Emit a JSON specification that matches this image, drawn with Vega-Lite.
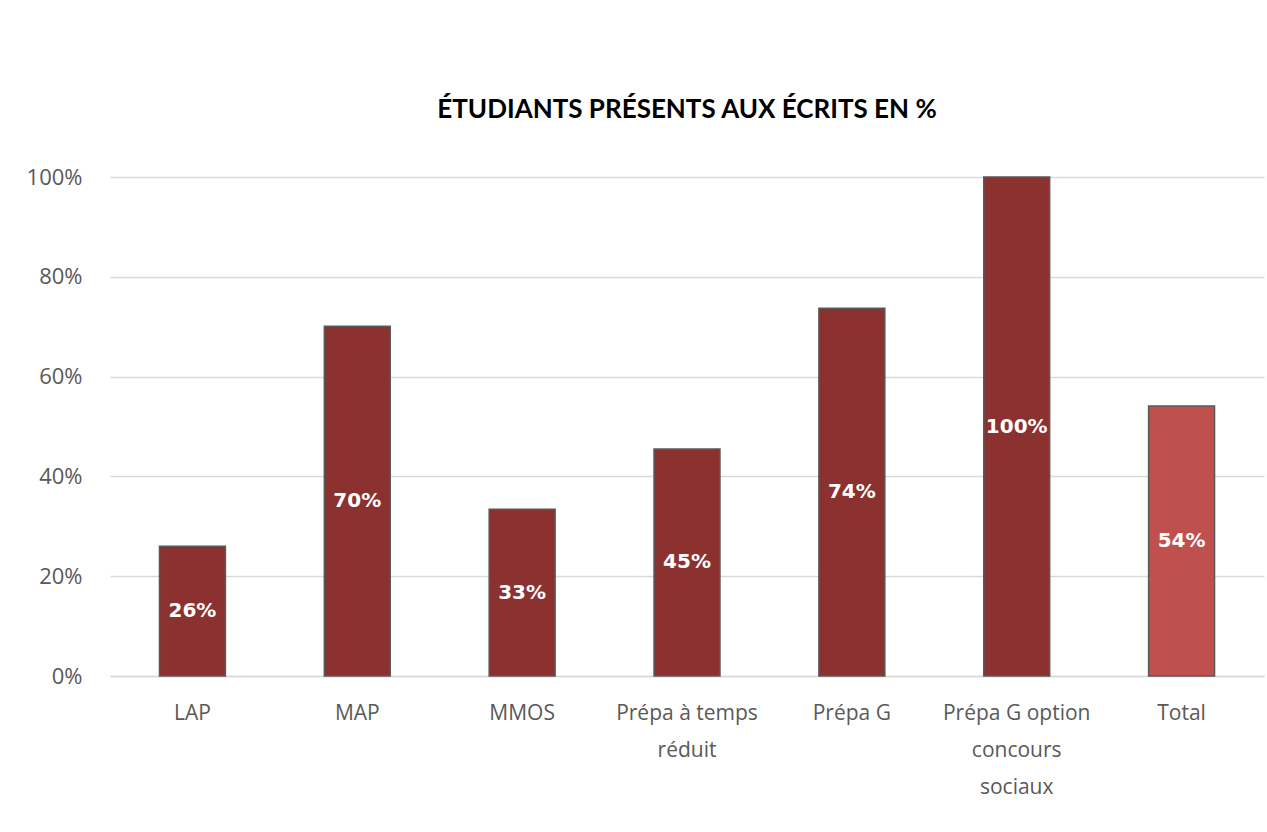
{
  "$schema": "https://vega.github.io/schema/vega-lite/v6.json",
  "width": 1154,
  "height": 499,
  "autosize": {"type": "none"},
  "padding": {"left": 110, "top": 177, "right": 3, "bottom": 156},
  "background": "white",
  "title": {
    "text": "ÉTUDIANTS PRÉSENTS AUX ÉCRITS EN %",
    "font": "Lato",
    "fontSize": 26,
    "fontWeight": "bold",
    "color": "#000000",
    "anchor": "middle",
    "offset": 43
  },
  "data": {
    "values": [
      {"cat": "LAP", "v": 26.0, "label": "26%", "total": "no"},
      {"cat": "MAP", "v": 70.1, "label": "70%", "total": "no"},
      {"cat": "MMOS", "v": 33.4, "label": "33%", "total": "no"},
      {"cat": "Prépa à temps réduit", "v": 45.5, "label": "45%", "total": "no"},
      {"cat": "Prépa G", "v": 73.7, "label": "74%", "total": "no"},
      {"cat": "Prépa G option concours sociaux", "v": 100, "label": "100%", "total": "no"},
      {"cat": "Total", "v": 54.1, "label": "54%", "total": "yes"}
    ]
  },
  "encoding": {
    "x": {
      "field": "cat",
      "type": "nominal",
      "sort": null,
      "scale": {"paddingInner": 0.6, "paddingOuter": 0.3},
      "axis": {
        "title": null,
        "labelAngle": 0,
        "domain": true,
        "domainColor": "#D9D9D9",
        "domainWidth": 1.5,
        "ticks": false,
        "labelPadding": 26,
        "labelFont": "Open Sans",
        "labelFontSize": 21,
        "labelColor": "#595959",
        "labelLineHeight": 37,
        "labelBaseline": "top",
        "labelExpr": "datum.value == 'Prépa à temps réduit' ? ['Prépa à temps', 'réduit'] : datum.value == 'Prépa G option concours sociaux' ? ['Prépa G option', 'concours', 'sociaux'] : datum.value"
      }
    }
  },
  "layer": [
    {
      "mark": {"type": "bar", "stroke": "#595959", "strokeWidth": 1.5},
      "encoding": {
        "y": {
          "field": "v",
          "type": "quantitative",
          "scale": {"domain": [0, 100]},
          "axis": {
            "title": null,
            "values": [0, 20, 40, 60, 80, 100],
            "labelExpr": "datum.value + '%'",
            "domain": false,
            "ticks": false,
            "grid": true,
            "gridColor": "#D9D9D9",
            "gridWidth": 1.5,
            "labelPadding": 28,
            "labelFont": "Open Sans",
            "labelFontSize": 22,
            "labelColor": "#595959"
          }
        },
        "color": {
          "field": "total",
          "type": "nominal",
          "scale": {"domain": ["no", "yes"], "range": ["#8B3230", "#C0504D"]},
          "legend": null
        }
      }
    },
    {
      "transform": [{"calculate": "datum.v / 2", "as": "mid"}],
      "mark": {
        "type": "text",
        "color": "white",
        "font": "DejaVu Sans",
        "fontWeight": "bold",
        "fontSize": 20,
        "baseline": "middle",
        "align": "center"
      },
      "encoding": {
        "y": {"field": "mid", "type": "quantitative"},
        "text": {"field": "label"}
      }
    }
  ],
  "config": {"view": {"stroke": null}}
}
